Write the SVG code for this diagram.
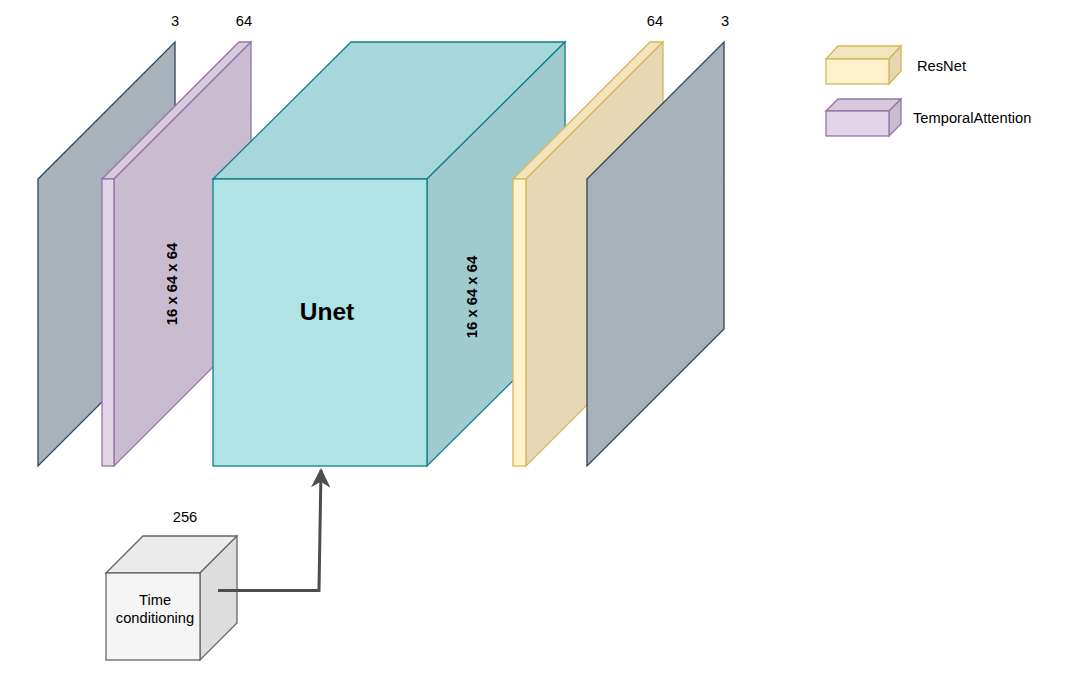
<svg xmlns="http://www.w3.org/2000/svg" width="1068" height="684" viewBox="0 0 1068 684">
<defs>
<style>
text{font-family:"Liberation Sans",Arial,sans-serif;fill:#000}
.lbl{font-size:14.7px}
.dim{font-size:14.8px;font-weight:bold}
.gray{fill:#A7B2BB;stroke:#314354;stroke-width:1.3}
.pf{fill:#E1D5E7;stroke:#9673A6;stroke-width:1.3}
.pt{fill:#D7CADD;stroke:#9673A6;stroke-width:1.3}
.ps{fill:#C9BCCF;stroke:#9673A6;stroke-width:1.3}
.tf{fill:#B0E3E6;stroke:#0E8088;stroke-width:1.3}
.tt{fill:#A7D7DA;stroke:#0E8088;stroke-width:1.3}
.ts{fill:#A0CBCE;stroke:#0E8088;stroke-width:1.3}
.yf{fill:#FFF2CC;stroke:#D6B656;stroke-width:1.3}
.yt{fill:#F2E4BE;stroke:#D6B656;stroke-width:1.3}
.ys{fill:#E6D8B4;stroke:#D6B656;stroke-width:1.3}
.gf{fill:#F5F5F5;stroke:#666;stroke-width:1.3}
.gt{fill:#EBEBEB;stroke:#666;stroke-width:1.3}
.gs{fill:#DDDDDD;stroke:#666;stroke-width:1.3}
</style>
<marker id="arr" viewBox="0 0 10 10" refX="9" refY="5" markerWidth="6.5" markerHeight="6.5" markerUnits="strokeWidth" orient="auto">
<path d="M0,0 L10,5 L0,10 L3,5 Z" fill="#4D4D4D"/>
</marker>
</defs>
<rect width="1068" height="684" fill="#fff"/>

<g id="input">
<polygon class="gray" points="38,179 175,42 175,329 38,466"/>
<text class="lbl" x="175" y="26" text-anchor="middle">3</text>
</g>

<g id="temporal-attention">
<polygon class="pt" points="102,179 239,42 251,42 114,179"/>
<polygon class="ps" points="114,179 251,42 251,329 114,466"/>
<rect class="pf" x="102" y="179" width="12" height="287"/>
<text class="lbl" x="244" y="26" text-anchor="middle">64</text>
<text class="dim" transform="translate(177,284) rotate(-90)" text-anchor="middle">16 x 64 x 64</text>
</g>

<g id="unet">
<polygon class="tt" points="213,179 351,42 565,42 427,179"/>
<polygon class="ts" points="427,179 565,42 565,329 427,466"/>
<rect class="tf" x="213" y="179" width="214" height="287"/>
<text x="327" y="320" text-anchor="middle" style="font-size:24.5px;font-weight:bold">Unet</text>
<text class="dim" transform="translate(477,297) rotate(-90)" text-anchor="middle">16 x 64 x 64</text>
</g>

<g id="resnet">
<polygon class="yt" points="513,179 650,42 663,42 526,179"/>
<polygon class="ys" points="526,179 663,42 663,329 526,466"/>
<rect class="yf" x="513" y="179" width="13" height="287"/>
<text class="lbl" x="655" y="26" text-anchor="middle">64</text>
</g>

<g id="output">
<polygon class="gray" points="587,179 724,42 724,329 587,466"/>
<text class="lbl" x="725" y="26" text-anchor="middle">3</text>
</g>

<g id="time-conditioning">
<polygon class="gt" points="106,573 143,536 237,536 200,573"/>
<polygon class="gs" points="200,573 237,536 237,623 200,660"/>
<rect class="gf" x="106" y="573" width="94" height="87"/>
<text class="lbl" x="155" y="605" text-anchor="middle">Time</text>
<text class="lbl" x="155" y="623" text-anchor="middle">conditioning</text>
<text class="lbl" x="185" y="522" text-anchor="middle">256</text>
</g>

<g id="connectors">
<path d="M218,590.5 L319,590.5 L321,470" fill="none" stroke="#4D4D4D" stroke-width="3" marker-end="url(#arr)"/>
</g>

<g id="legend-resnet">
<polygon class="yt" points="826,59 838,46 901,46 889,59"/>
<polygon class="ys" points="889,59 901,46 901,71 889,84"/>
<rect class="yf" x="826" y="59" width="63" height="25"/>
<text class="lbl" x="917" y="70.5">ResNet</text>
</g>

<g id="legend-temporal">
<polygon class="pt" points="826,111 838,99 901,99 889,111"/>
<polygon class="ps" points="889,111 901,99 901,124 889,136"/>
<rect class="pf" x="826" y="111" width="63" height="25"/>
<text class="lbl" x="913" y="122.5">TemporalAttention</text>
</g>
</svg>
